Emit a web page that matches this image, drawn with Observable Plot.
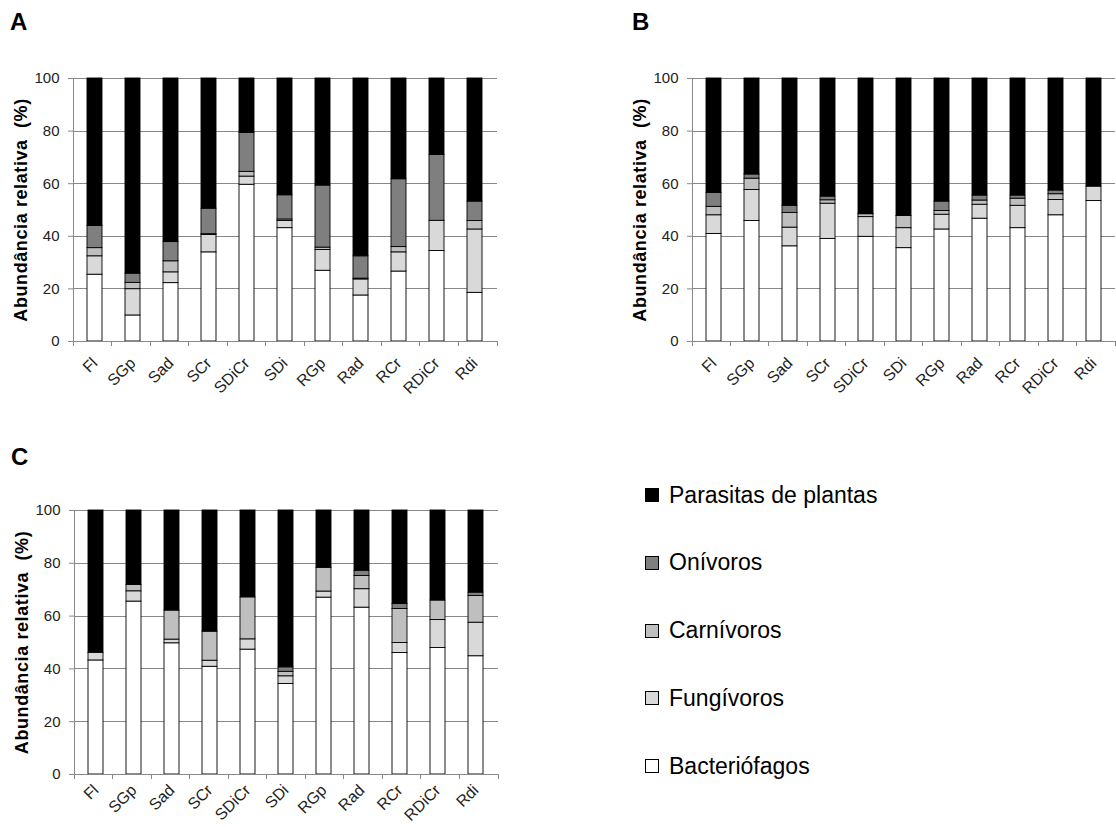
<!DOCTYPE html>
<html>
<head>
<meta charset="utf-8">
<script src="https://cdn.jsdelivr.net/npm/d3@7"></script>
<script src="https://cdn.jsdelivr.net/npm/@observablehq/plot@0.6"></script>
<style>
  html, body { margin: 0; padding: 0; background: #fff; }
  body { width: 1116px; height: 827px; overflow: hidden; position: relative; font-family: "Liberation Sans", Arial, sans-serif; }
  .panel { position: absolute; }
  .letter { position: absolute; font-weight: bold; font-size: 24px; line-height: 24px; color: #000; }
  .legend-row { position: absolute; left: 645px; height: 30px; display: flex; align-items: center; }
  .legend-sw { width: 12px; height: 12px; border: 1px solid #000; box-sizing: content-box; margin-right: 10px; }
  .legend-tx { font-size: 23px; color: #000; }
  g[aria-label="text"] text { letter-spacing: 0.6px; }
</style>
</head>
<body>
<div class="letter" style="left:10px; top:10px;">A</div>
<div class="letter" style="left:632px; top:10px;">B</div>
<div class="letter" style="left:11px; top:445px;">C</div>
<div id="pA" class="panel" style="left:0px; top:50px;"></div>
<div id="pB" class="panel" style="left:620px; top:50px;"></div>
<div id="pC" class="panel" style="left:0px; top:482px;"></div>
<div id="legend"></div>
<script>
// ---- data ----
const categories = ["Fl", "SGp", "Sad", "SCr", "SDiCr", "SDi", "RGp", "Rad", "RCr", "RDiCr", "Rdi"];
const groups = ["Bacteriófagos", "Fungívoros", "Carnívoros", "Onívoros", "Parasitas de plantas"];
const groupColors = ["#ffffff", "#d9d9d9", "#bfbfbf", "#7f7f7f", "#000000"];
const yTicks = [0, 20, 40, 60, 80, 100];
const yLabel = "Abundância relativa  (%)";

// Panel A
const A_bacteriofagos = [25.4, 9.9, 22.2, 33.9, 59.6, 43.1, 26.9, 17.5, 26.6, 34.4, 18.5];
const A_fungivoros    = [7.0, 10.0, 4.1, 6.6, 3.1, 2.7, 7.9, 6.1, 7.3, 11.5, 24.1];
const A_carnivoros    = [3.1, 2.4, 4.2, 0.3, 1.8, 0.6, 0.9, 0.3, 2.0, 0.0, 3.2];
const A_onivoros      = [8.4, 3.5, 7.3, 9.7, 14.8, 9.2, 23.6, 8.5, 25.8, 25.0, 7.4];
const A_parasitas     = [56.1, 74.2, 62.2, 49.5, 20.7, 44.4, 40.7, 67.6, 38.3, 29.1, 46.8];

// Panel B
const B_bacteriofagos = [40.9, 45.8, 36.2, 39.0, 39.8, 35.5, 42.6, 46.7, 43.1, 48.0, 53.4];
const B_fungivoros    = [7.1, 11.8, 7.1, 13.4, 7.5, 7.6, 5.6, 5.3, 8.5, 5.8, 5.5];
const B_carnivoros    = [3.2, 4.3, 5.6, 1.3, 1.1, 4.6, 1.4, 1.6, 2.7, 2.2, 0.0];
const B_onivoros      = [5.3, 1.6, 2.7, 1.4, 0.2, 0.0, 3.6, 1.9, 1.2, 1.4, 0.0];
const B_parasitas     = [43.5, 36.5, 48.4, 44.9, 51.4, 52.3, 46.8, 44.5, 44.5, 42.6, 41.1];

// Panel C
const C_bacteriofagos = [43.2, 65.5, 49.7, 40.8, 47.3, 34.3, 67.0, 63.2, 46.0, 47.9, 44.8];
const C_fungivoros    = [2.9, 3.9, 1.4, 2.3, 3.9, 2.9, 2.3, 7.0, 3.8, 10.6, 12.7];
const C_carnivoros    = [0.0, 2.4, 11.0, 11.0, 15.9, 1.7, 9.0, 5.0, 12.9, 7.4, 10.1];
const C_onivoros      = [0.0, 0.0, 0.0, 0.0, 0.0, 1.7, 0.0, 2.0, 1.9, 0.0, 1.3];
const C_parasitas     = [53.9, 28.2, 37.9, 45.9, 32.9, 59.4, 21.7, 22.8, 35.4, 34.1, 31.1];

function toRows(series) {
  const rows = [];
  series.forEach((vals, gi) => {
    vals.forEach((v, ci) => rows.push({cat: categories[ci], group: groups[gi], value: v}));
  });
  return rows;
}

function addCategoryTicks(svg) {
  const xs = svg.scale("x");
  const ys = svg.scale("y");
  const b = d3.scaleBand(xs.domain, xs.range)
    .paddingInner(xs.paddingInner ?? 0.6)
    .paddingOuter(xs.paddingOuter ?? 0.3)
    .align(xs.align ?? 0.5);
  const half = (b.step() - b.bandwidth()) / 2;
  const bounds = xs.domain.map(c => b(c) - half);
  bounds.push(b(xs.domain[xs.domain.length - 1]) + b.bandwidth() + half);
  const yScale = d3.scaleLinear(ys.domain, ys.range);
  const y0 = yScale(0), y1 = yScale(100);
  const g = d3.select(svg).append("g").attr("stroke", "#888").attr("stroke-width", 1).attr("shape-rendering", "crispEdges");
  g.append("line").attr("x1", bounds[0]).attr("x2", bounds[0]).attr("y1", y0).attr("y2", y1);
  bounds.forEach(bx => g.append("line").attr("x1", bx).attr("x2", bx).attr("y1", y0).attr("y2", y0 + 5));
}

function panel(id, series, opts) {
  const rows = toRows(series);
  const svg = Plot.plot({
    width: opts.width,
    height: opts.height,
    marginLeft: opts.marginLeft,
    marginRight: opts.marginRight,
    marginTop: 28,
    marginBottom: opts.marginBottom,
    style: {fontFamily: "'Liberation Sans', Arial, sans-serif", fontSize: "15px", background: "transparent", overflow: "visible"},
    x: {domain: categories, paddingInner: 0.6, paddingOuter: 0.3, align: 0.5},
    y: {domain: [0, 100]},
    color: {domain: groups, range: groupColors},
    marks: [
      Plot.gridY(yTicks.filter(d => d > 0), {stroke: "#888", strokeOpacity: 1, shapeRendering: "crispEdges"}),
      Plot.barY(rows, Plot.stackY({x: "cat", y: "value", fill: "group", order: groups, stroke: "#000", strokeWidth: 0.9})),
      Plot.ruleY([0], {stroke: "#888", shapeRendering: "crispEdges"}),
      Plot.axisY({ticks: yTicks, tickSize: 5, tickPadding: 9, label: null, stroke: "#888", fill: "#222", fontSize: 15}),
      Plot.axisX({tickSize: 0, tickRotate: -45, tickPadding: opts.xPad, label: null, fill: "#222", fontSize: 16}),
      Plot.text([yLabel], {frameAnchor: "left", textAnchor: "middle", dx: -52, rotate: -90, fontWeight: "bold", fontSize: 18, fill: "#000"})
    ]
  });
  addCategoryTicks(svg);
  document.getElementById(id).appendChild(svg);
}

panel("pA", [A_bacteriofagos, A_fungivoros, A_carnivoros, A_onivoros, A_parasitas],
  {width: 510, height: 360, marginLeft: 73, marginRight: 13, marginBottom: 69, xPad: 19});
panel("pB", [B_bacteriofagos, B_fungivoros, B_carnivoros, B_onivoros, B_parasitas],
  {width: 496, height: 360, marginLeft: 72, marginRight: 1, marginBottom: 69, xPad: 19});
panel("pC", [C_bacteriofagos, C_fungivoros, C_carnivoros, C_onivoros, C_parasitas],
  {width: 510, height: 345, marginLeft: 74, marginRight: 12, marginBottom: 53, xPad: 13});

// legend (top to bottom: reverse of stacking order)
const legend = document.getElementById("legend");
const legendOrder = groups.slice().reverse();
legendOrder.forEach((g, i) => {
  const row = document.createElement("div");
  row.className = "legend-row";
  row.style.top = (495 + i * 67.8 - 15) + "px";
  const sw = document.createElement("div");
  sw.className = "legend-sw";
  sw.style.background = groupColors[groups.indexOf(g)];
  const tx = document.createElement("div");
  tx.className = "legend-tx";
  tx.textContent = g;
  row.appendChild(sw); row.appendChild(tx);
  legend.appendChild(row);
});
</script>
</body>
</html>
